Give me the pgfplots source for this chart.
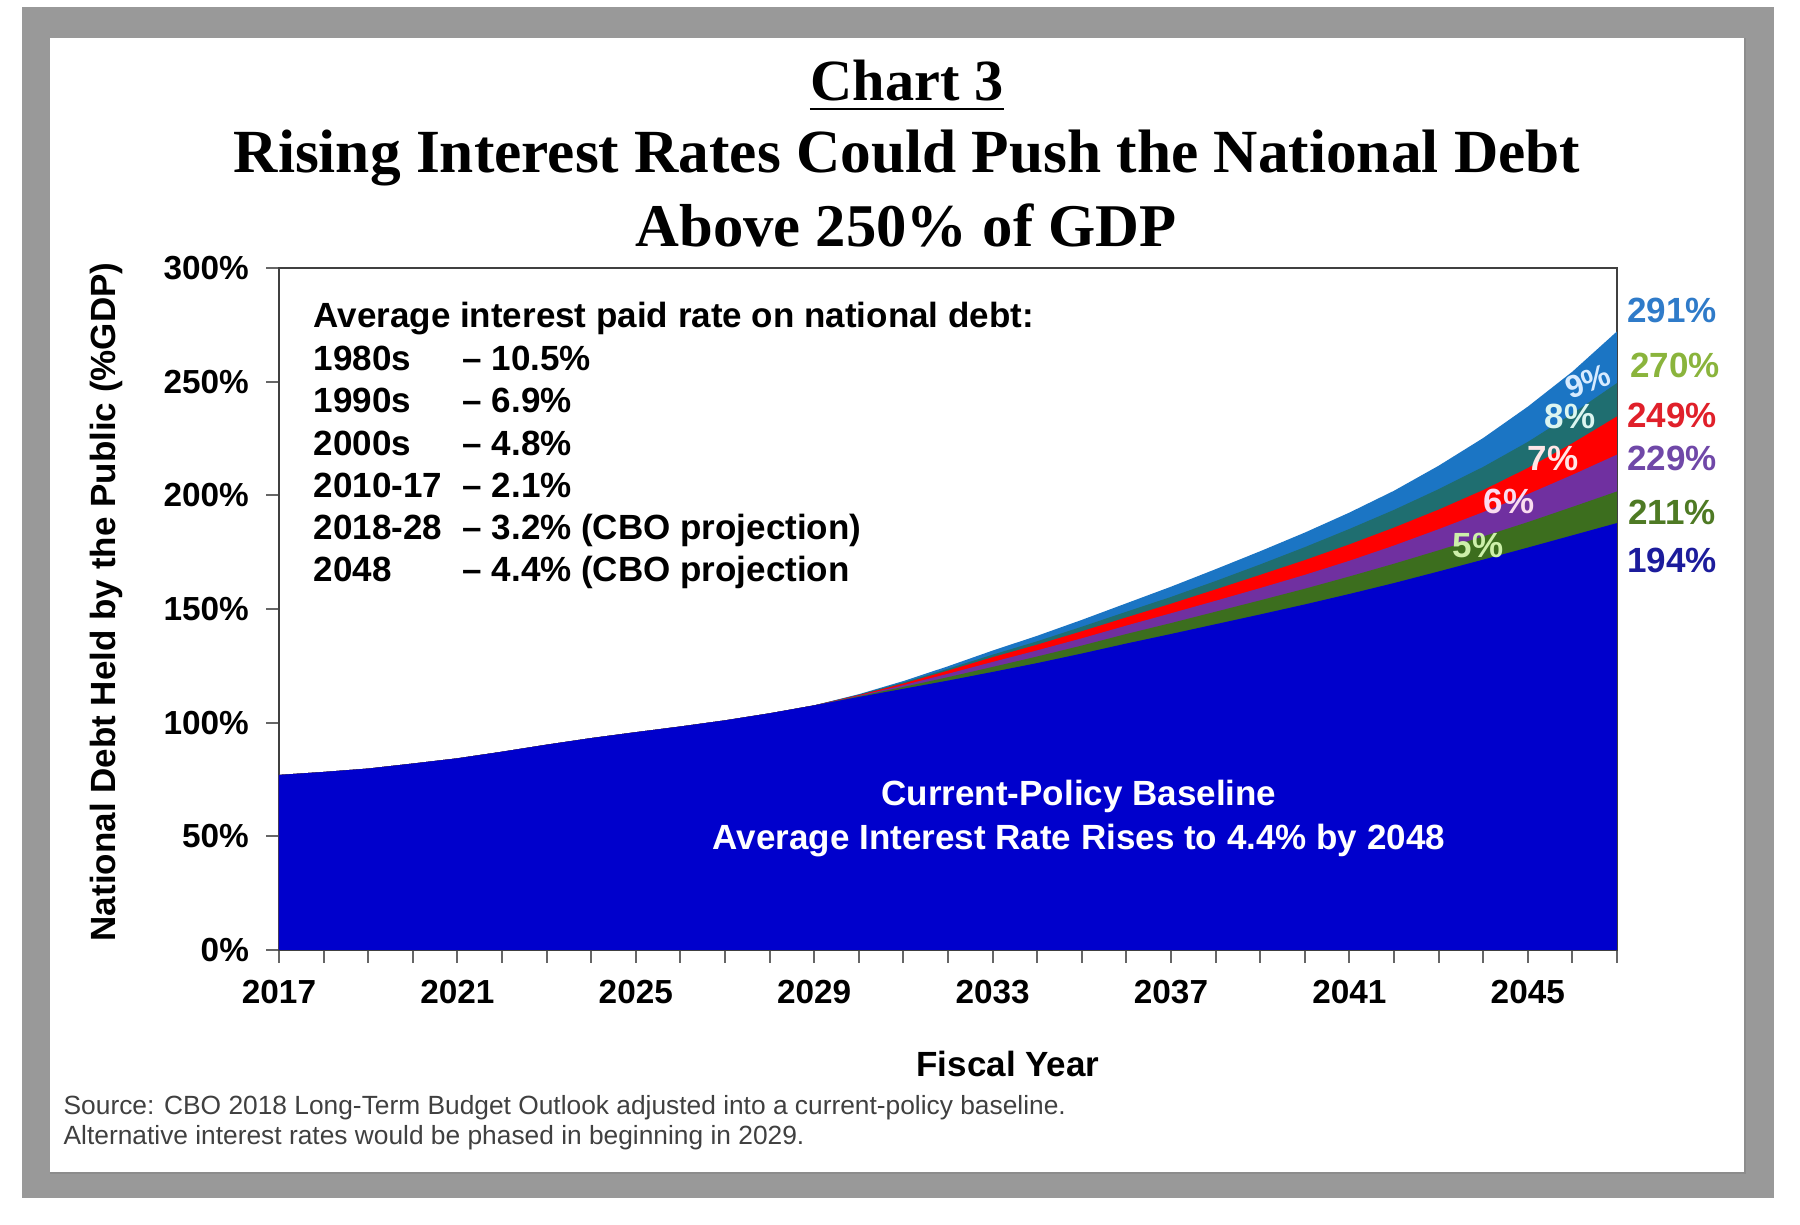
\documentclass[border=0pt]{standalone}
\usepackage{fontspec}
\setmainfont{Liberation Sans}
\newfontfamily\serif{Liberation Serif}
\usepackage{pgfplots}
\pgfplotsset{compat=1.18}
\usepackage{pgfplotstable}

\definecolor{cbase}{HTML}{0000CC}
\definecolor{cfive}{HTML}{3C6E1E}
\definecolor{csix}{HTML}{7030A0}
\definecolor{cseven}{HTML}{FF0000}
\definecolor{ceight}{HTML}{1F6E70}
\definecolor{cnine}{HTML}{1B75C4}
\definecolor{frame}{HTML}{999999}
\definecolor{lnine}{HTML}{2F7BC9}
\definecolor{leight}{HTML}{8AB43C}
\definecolor{lseven}{HTML}{E0202A}
\definecolor{lsix}{HTML}{7048A8}
\definecolor{lfive}{HTML}{4E7A24}
\definecolor{lbase}{HTML}{1C1C9C}

\pgfplotstableread{
year base c5 c6 c7 c8 c9
2017 77.0 77.0 77.0 77.0 77.0 77.0
2018 78.3 78.3 78.3 78.3 78.3 78.3
2019 79.8 79.8 79.8 79.8 79.8 79.8
2020 82.0 82.0 82.0 82.0 82.0 82.0
2021 84.3 84.3 84.3 84.3 84.3 84.3
2022 87.2 87.2 87.2 87.2 87.2 87.2
2023 90.3 90.3 90.3 90.3 90.3 90.3
2024 93.2 93.2 93.2 93.2 93.2 93.2
2025 95.8 95.8 95.8 95.8 95.8 95.8
2026 98.3 98.3 98.3 98.3 98.3 98.3
2027 101.0 101.0 101.0 101.0 101.0 101.0
2028 104.1 104.1 104.1 104.1 104.1 104.1
2029 107.6 107.6 107.6 107.6 107.6 107.6
2030 111.3 111.6 111.8 112.1 112.3 112.5
2031 114.9 115.7 116.5 117.2 117.7 118.3
2032 118.5 120.0 121.5 122.9 123.7 124.8
2033 122.3 124.5 126.7 128.8 129.9 131.7
2034 126.2 129.1 131.8 134.3 135.8 138.2
2035 130.4 133.9 137.1 140.2 142.2 145.2
2036 134.8 139.0 142.7 146.3 148.8 152.5
2037 139.0 143.8 148.1 152.3 155.3 159.8
2038 143.3 148.8 153.6 158.6 162.3 167.5
2039 147.6 153.8 159.2 165.0 169.6 175.4
2040 152.0 158.9 165.0 171.5 177.2 183.6
2041 156.6 164.3 171.2 178.4 185.2 192.4
2042 161.4 169.9 177.9 185.8 193.6 202.0
2043 166.5 175.8 185.1 193.7 202.7 213.0
2044 171.7 181.9 192.6 202.3 212.5 225.2
2045 177.0 188.2 200.5 212.0 223.5 239.0
2046 182.4 194.9 209.0 222.9 235.9 254.4
2047 187.8 201.7 217.9 234.7 249.4 272.1
}\debt

\begin{document}
\begin{tikzpicture}
% background, in pixel units (1800 x 1225, y downwards)
\begin{scope}[x=0.3pt,y=-0.3pt,shift={(0pt,367.5pt)}]
  \fill[white] (0,0) rectangle (1800,1225);
  \fill[frame] (22,7) rectangle (1774,1198);
  \fill[white] (50,38) rectangle (1745,1173);
  \draw[black!45,line width=0.5pt] (50,1173) -- (1745,1173) -- (1745,38);
\end{scope}

\begin{axis}[
  at={(83.7pt,82.5pt)}, anchor=south west,
  scale only axis, width=401.4pt, height=204.6pt,
  xmin=2017, xmax=2047, ymin=0, ymax=300,
  xtick={2017,2021,2025,2029,2033,2037,2041,2045},
  xticklabels={2017,2021,2025,2029,2033,2037,2041,2045},
  minor xtick={2017,2018,...,2047},
  ytick={0,50,100,150,200,250,300},
  yticklabels={0\%,50\%,100\%,150\%,200\%,250\%,300\%},
  tick align=outside, xtick pos=bottom, ytick pos=left,
  major tick length=3.9pt, minor tick length=3.9pt,
  axis line style={black!75, line width=0.6pt},
  every tick/.style={black!60, line width=0.6pt},
  tick label style={font=\bfseries\fontsize{10}{12}\selectfont},
  xticklabel style={yshift=-1.6pt},
  yticklabel style={xshift=-1.6pt},
]
\addplot[fill=cnine, draw=none] table[x=year,y=c9]{\debt} \closedcycle;
\addplot[fill=ceight, draw=none] table[x=year,y=c8]{\debt} \closedcycle;
\addplot[fill=cseven, draw=none] table[x=year,y=c7]{\debt} \closedcycle;
\addplot[fill=csix, draw=none] table[x=year,y=c6]{\debt} \closedcycle;
\addplot[fill=cfive, draw=none] table[x=year,y=c5]{\debt} \closedcycle;
\addplot[fill=cbase, draw=none] table[x=year,y=base]{\debt} \closedcycle;
\end{axis}

\begin{scope}[x=0.3pt,y=-0.3pt,shift={(0pt,367.5pt)}]
  % titles
  \node[anchor=base,inner sep=0pt,font=\serif\bfseries\fontsize{17.5}{20}\selectfont] (c3) at (907,101) {Chart 3};
  \draw[line width=0.6pt] ([yshift=-2.4pt]c3.base west) -- ([yshift=-2.4pt]c3.base east);
  \node[anchor=base,inner sep=0pt,font=\serif\bfseries\fontsize{18.4}{20}\selectfont] at (907,173) {Rising Interest Rates Could Push the National Debt};
  \node[anchor=base,inner sep=0pt,font=\serif\bfseries\fontsize{18.2}{20}\selectfont] at (906,247) {Above 250\% of GDP};
  % axis titles
  \node[rotate=90,inner sep=0pt,font=\bfseries\fontsize{10.5}{12}\selectfont] at (106,602) {National Debt Held by the Public (\%GDP)};
  \node[anchor=base,inner sep=0pt,font=\bfseries\fontsize{10.5}{12}\selectfont] at (1008,1077) {Fiscal Year};
  % source
  \node[anchor=base west,inner sep=0pt,text=black!75,font=\fontsize{7.9}{9}\selectfont] at (63,1115) {Source: CBO 2018 Long-Term Budget Outlook adjusted into a current-policy baseline.};
  \node[anchor=base west,inner sep=0pt,text=black!75,font=\fontsize{7.9}{9}\selectfont] at (63,1145) {Alternative interest rates would be phased in beginning in 2029.};
  % text block
  \begin{scope}[every node/.style={anchor=base west,inner sep=0pt,font=\bfseries\fontsize{10.5}{12}\selectfont}]
    \node at (313,328) {Average interest paid rate on national debt:};
    \node at (313,370.7) {1980s};   \node at (462,370.7) {– 10.5\%};
    \node at (313,412.9) {1990s};   \node at (462,412.9) {– 6.9\%};
    \node at (313,455.1) {2000s};   \node at (462,455.1) {– 4.8\%};
    \node at (313,497.3) {2010-17}; \node at (462,497.3) {– 2.1\%};
    \node at (313,539.5) {2018-28}; \node at (462,539.5) {– 3.2\% (CBO projection)};
    \node at (313,581.7) {2048};    \node at (462,581.7) {– 4.4\% (CBO projection};
  \end{scope}
  % baseline label
  \node[anchor=base,inner sep=0pt,text=white,font=\bfseries\fontsize{10.5}{12}\selectfont] at (1079,806) {Current-Policy Baseline};
  \node[anchor=base,inner sep=0pt,text=white,font=\bfseries\fontsize{10.5}{12}\selectfont] at (1079,850) {Average Interest Rate Rises to 4.4\% by 2048};
  % band labels
  \begin{scope}[every node/.style={inner sep=0pt,font=\bfseries\fontsize{10.5}{12}\selectfont}]
    \node[text={rgb,255:red,205;green,240;blue,170}] at (1478,546) {5\%};
    \node[text={rgb,255:red,250;green,220;blue,240}] at (1509,501) {6\%};
    \node[text={rgb,255:red,255;green,230;blue,230}] at (1553,458) {7\%};
    \node[text={rgb,255:red,220;green,245;blue,240}] at (1570,416) {8\%};
    \node[text={rgb,255:red,215;green,235;blue,255},rotate=20,font=\bfseries\fontsize{9.5}{11}\selectfont] at (1588,381) {9\%};
    \node[text=lnine] at (1672,310) {291\%};
    \node[text=leight] at (1675,365) {270\%};
    \node[text=lseven] at (1672,415) {249\%};
    \node[text=lsix] at (1672,458) {229\%};
    \node[text=lfive] at (1672,512) {211\%};
    \node[text=lbase] at (1672,560) {194\%};
  \end{scope}
\end{scope}
\end{tikzpicture}
\end{document}
